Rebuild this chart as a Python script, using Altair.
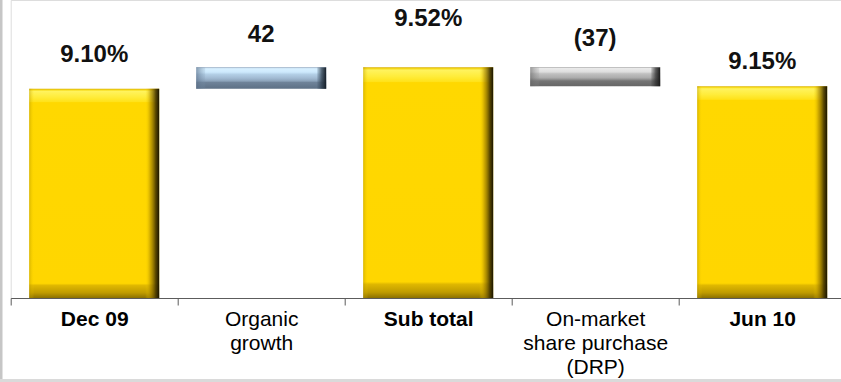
import altair as alt
import pandas as pd

# Capital ratio bridge, Dec 09 -> Jun 10
categories = ["Dec 09", "Organic\ngrowth", "Sub total", "On-market\nshare purchase\n(DRP)", "Jun 10"]
kinds = ["total", "up", "total", "down", "total"]
values = [9.10, 0.42, 9.52, -0.37, 9.15]          # totals in %, steps in % points
labels = ["9.10%", "42", "9.52%", "(37)", "9.15%"]  # steps shown in basis points

Y_MIN, Y_MAX = 5.0, 10.84
FONT = "Liberation Sans"

rows = []
level = None
for cat, kind, val, lab in zip(categories, kinds, values, labels):
    if kind == "total":
        start, end = Y_MIN, val
        level = val
    else:
        start, end = level, level + val
        level = end
    rows.append({"cat": cat, "kind": kind, "top": max(start, end),
                 "bottom": min(start, end), "label": lab})
df = pd.DataFrame(rows)

x_enc = alt.X(
    "cat:N", sort=categories, title=None,
    scale=alt.Scale(range=[0, 835], paddingInner=0, paddingOuter=0),
    axis=alt.Axis(
        labelAngle=0, labelFont=FONT, labelFontSize=21, labelColor="#000000",
        labelPadding=3, labelLineHeight=24, labelLimit=260,
        labelExpr="split(datum.label, '\\n')",
        labelFontWeight=alt.condition(
            "datum.value == 'Dec 09' || datum.value == 'Sub total' || datum.value == 'Jun 10'",
            alt.value("bold"), alt.value("normal")),
        tickBand="extent", tickSize=7, tickColor="#5c5c5c",
        domainColor="#5c5c5c", grid=False,
    ),
)
y_enc = alt.Y("top:Q", title=None, axis=None,
              scale=alt.Scale(domain=[Y_MIN, Y_MAX], zero=False, nice=False))
y2_enc = alt.Y2("bottom:Q")


def vgrad(stops):
    return alt.LinearGradient(
        gradient="linear", x1=0, x2=0, y1=0, y2=1,
        stops=[alt.GradientStop(offset=o, color=c) for o, c in stops])


def hgrad(stops):
    return alt.LinearGradient(
        gradient="linear", x1=0, x2=1, y1=0, y2=0,
        stops=[alt.GradientStop(offset=o, color=c) for o, c in stops])


def bevel_bar(kind, face, right, left):
    base = alt.Chart(df).transform_filter(alt.datum.kind == kind)
    body = base.mark_bar(size=130, fill=face, strokeWidth=0).encode(
        x=x_enc, y=y_enc, y2=y2_enc)
    rside = base.mark_bar(size=right[0], xOffset=65 - right[0] / 2,
                          fill=right[1], strokeWidth=0).encode(
        x=x_enc, y=y_enc, y2=y2_enc)
    lside = base.mark_bar(size=left[0], xOffset=-65 + left[0] / 2,
                          fill=left[1], strokeWidth=0).encode(
        x=x_enc, y=y_enc, y2=y2_enc)
    return [body, rside, lside]


gold = bevel_bar(
    "total",
    vgrad([(0.0, "#d9b000"), (0.006, "#f7dc1c"), (0.012, "#fff35e"),
           (0.04, "#ffec3a"), (0.062, "#ffe21a"), (0.066, "#ffd800"),
           (0.93, "#ffd600"), (0.94, "#e0b800"), (0.975, "#bf9b00"),
           (1.0, "#8c7100")]),
    (14, hgrad([(0.0, "rgba(255,216,0,0)"), (0.35, "rgba(170,135,0,0.55)"),
                (0.75, "rgba(70,55,0,0.9)"), (1.0, "rgba(25,20,0,1)")])),
    (5, hgrad([(0.0, "rgba(170,140,0,0.45)"), (1.0, "rgba(255,216,0,0)")])),
)

blue = bevel_bar(
    "up",
    vgrad([(0.0, "#8fa7c0"), (0.06, "#d8f0ff"), (0.22, "#cde9fd"),
           (0.33, "#b3cfe6"), (0.5, "#a2bbd3"), (0.64, "#8ca3ba"),
           (0.7, "#6f8399"), (1.0, "#5d7085")]),
    (9, hgrad([(0.0, "rgba(60,80,100,0.2)"), (0.5, "rgba(40,55,70,0.75)"),
               (1.0, "rgba(20,28,38,1)")])),
    (9, hgrad([(0.0, "rgba(90,110,135,0.65)"), (1.0, "rgba(120,145,170,0.15)")])),
)

grey = bevel_bar(
    "down",
    vgrad([(0.0, "#a3a3a3"), (0.06, "#e9e9e9"), (0.24, "#dedede"),
           (0.34, "#c0c0c0"), (0.55, "#acacac"), (0.66, "#8a8a8a"),
           (0.72, "#747474"), (1.0, "#666666")]),
    (9, hgrad([(0.0, "rgba(60,60,60,0.2)"), (0.5, "rgba(45,45,45,0.75)"),
               (1.0, "rgba(25,25,25,1)")])),
    (9, hgrad([(0.0, "rgba(100,100,100,0.6)"), (1.0, "rgba(140,140,140,0.15)")])),
)

# value labels, each lifted by its own amount above the bar top
label_lift = {"Dec 09": 26.5, "Organic\ngrowth": 25.5, "Sub total": 41.5,
              "On-market\nshare purchase\n(DRP)": 21, "Jun 10": 17.5}
texts = []
for cat in categories:
    texts.append(
        alt.Chart(df).transform_filter(alt.datum.cat == cat)
        .mark_text(font=FONT, fontSize=24, fontWeight="bold", color="#111111",
                   baseline="alphabetic", dy=-label_lift[cat])
        .encode(x=x_enc, y=y_enc, text="label:N")
    )

# frame lines on the left and bottom edges
frame = pd.DataFrame({"k": [0]})
left_edge = alt.Chart(frame).mark_rule(color="#c6c6c6", strokeWidth=2.5).encode(
    x=alt.value(-9.45), y=alt.value(0), y2=alt.value(382))
bottom_edge = alt.Chart(frame).mark_rule(color="#dadada", strokeWidth=3).encode(
    x=alt.value(-10.7), x2=alt.value(830.3), y=alt.value(380.5))

chart = alt.layer(*gold, *blue, *grey, *texts, left_edge, bottom_edge).properties(
    width=830.3, height=298,
    autosize=alt.AutoSizeParams(type="none"),
    padding={"left": 10.7, "top": 0, "right": 0, "bottom": 84},
    background="#ffffff",
).configure_view(stroke=None).configure(font=FONT)

chart.save("out.html", embed_options={"renderer": "svg", "actions": False})
